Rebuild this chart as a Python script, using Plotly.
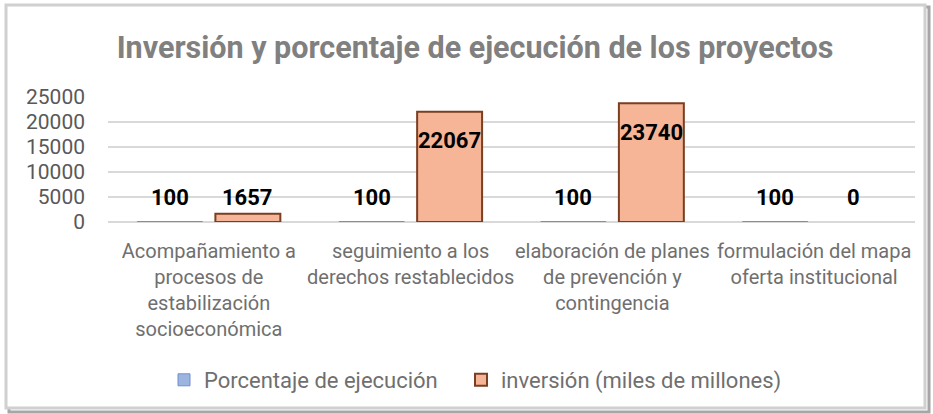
import plotly.graph_objects as go

categories = [
    "Acompañamiento a<br>procesos de<br>estabilización<br>socioeconómica",
    "seguimiento a los<br>derechos restablecidos",
    "elaboración de planes<br>de prevención y<br>contingencia",
    "formulación del mapa<br>oferta institucional",
]
cat_keys = ["c1", "c2", "c3", "c4"]
porcentaje = [100, 100, 100, 100]
inversion = [1657, 22067, 23740, 0]
y_ticks = [0, 5000, 10000, 15000, 20000, 25000]

FONT = "Roboto, sans-serif"

fig = go.Figure()
fig.add_trace(go.Bar(
    x=cat_keys, y=porcentaje, name="Porcentaje de ejecución", legend="legend",
    marker=dict(color="#9db4e0", line=dict(color="#6f8fd0", width=1)),
))
fig.add_trace(go.Bar(
    x=cat_keys, y=inversion, name="inversión (miles de millones)", legend="legend2",
    marker=dict(color="#f5b596",
                line=dict(color="#7a3e22", width=[2 if v > 0 else 0 for v in inversion])),
))

annotations = []
for series, shift in ((porcentaje, -39), (inversion, 39)):
    for k, v in zip(cat_keys, series):
        big = v > 5000
        annotations.append(dict(
            x=k, y=v if big else 0, xref="x", yref="y",
            text=f"<b>{v}</b>", showarrow=False,
            xshift=shift, yshift=-29 if big else 25,
            font=dict(family=FONT, size=22, color="#000000"),
            yanchor="middle", xanchor="center",
        ))

legend_font = dict(family=FONT, size=22, color="#6f6f6f")
fig.update_layout(
    width=933, height=414,
    margin=dict(l=108, r=18, t=97, b=192, autoexpand=False),
    paper_bgcolor="white", plot_bgcolor="white",
    barmode="group", bargap=0.227, bargroupgap=0.167,
    title=dict(
        text="<b>Inversión y porcentaje de ejecución de los proyectos</b>",
        x=475 / 933, xanchor="center", y=1 - 47 / 414, yanchor="middle",
        font=dict(family=FONT, size=30.5, color="#808080"),
    ),
    showlegend=True,
    legend=dict(
        orientation="h", x=(164 - 108) / 807, xanchor="left", y=-1.264, yanchor="middle",
        font=legend_font, bgcolor="rgba(0,0,0,0)",
    ),
    legend2=dict(
        orientation="h", x=(461 - 108) / 807, xanchor="left", y=-1.264, yanchor="middle",
        font=legend_font, bgcolor="rgba(0,0,0,0)",
    ),
    annotations=annotations,
    shapes=[
        dict(type="rect", xref="paper", yref="paper",
             x0=(9 - 108) / 807, x1=(929 - 108) / 807,
             y0=(222 - 412) / 125, y1=(222 - 7) / 125,
             line=dict(color="#a6a6a6", width=3), fillcolor="rgba(0,0,0,0)", layer="below"),
        dict(type="rect", xref="paper", yref="paper",
             x0=(6 - 108) / 807, x1=(925 - 108) / 807,
             y0=(222 - 408) / 125, y1=(222 - 5) / 125,
             line=dict(color="#d0d0d0", width=3), fillcolor="white", layer="below"),
    ],
)
fig.update_xaxes(
    tickvals=cat_keys, ticktext=categories, tickangle=0, automargin=False,
    tickfont=dict(family=FONT, size=20, color="#6f6f6f"),
    showline=False, showgrid=False, ticks="", ticklabelstandoff=15,
)
fig.update_yaxes(
    range=[0, 25000], tickvals=y_ticks, ticktext=[str(t) for t in y_ticks],
    tickfont=dict(family=FONT, size=21, color="#595959"), automargin=False,
    showgrid=True, gridcolor="#d9d9d9", gridwidth=2,
    zeroline=True, zerolinecolor="#d9d9d9", zerolinewidth=2,
    ticklabelstandoff=22, showline=False,
)

fig.write_html(
    "out.html",
    config={"displayModeBar": False},
    post_script="document.body.style.margin='0px';",
)
